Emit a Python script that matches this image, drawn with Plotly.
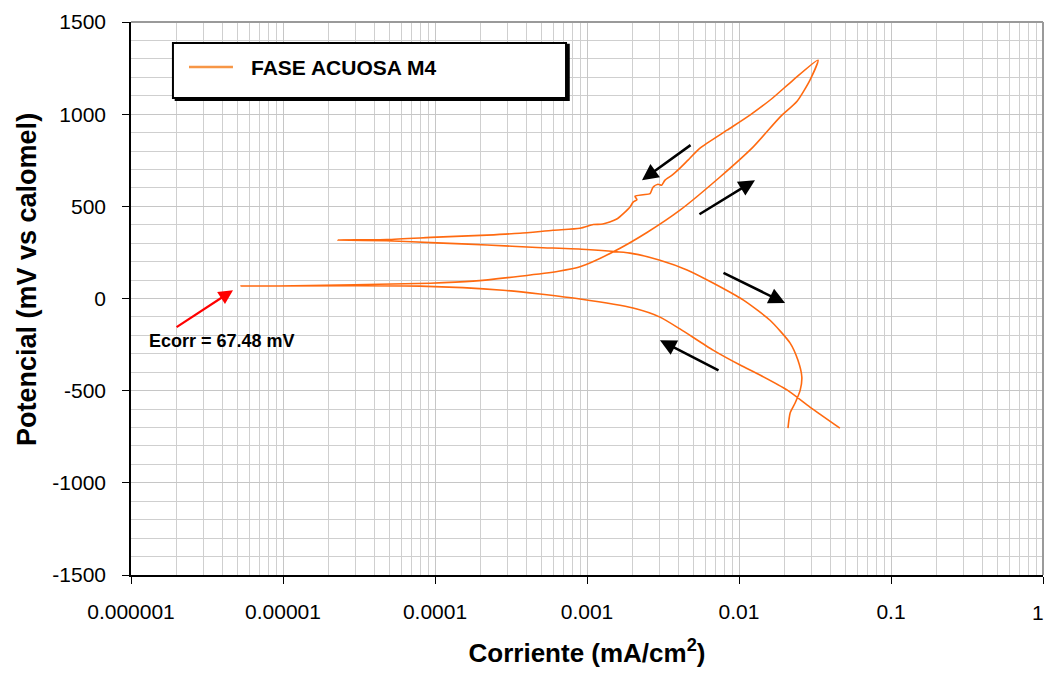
import numpy as np
import plotly.graph_objects as go

# ---- data (current mA/cm2, potential mV) ----
# forward scan, cathodic branch: from -700 mV up to Ecorr
cath_fwd_i = [0.0461, 0.0293, 0.0207, 0.01374, 0.01017, 0.00675, 0.00409, 0.00302,
              0.00201, 0.0009, 0.00049, 0.00028, 0.0000796, 0.0000053]
cath_fwd_e = [-703, -589, -496, -415, -361, -280, -165, -101,
              -52, -3, 24, 45, 67, 67.48]
# forward scan, anodic branch: Ecorr up to vertex
anod_fwd_i = [0.0000053, 0.0000093, 0.000093, 0.000178, 0.000362, 0.00065, 0.0009, 0.00148,
              0.00248, 0.00409, 0.0075, 0.01236, 0.0186, 0.0241, 0.0293, 0.0331]
anod_fwd_e = [67.48, 68, 83, 94, 121, 148, 172, 252,
              358, 479, 659, 821, 984, 1070, 1185, 1293]
# reverse scan, anodic part: vertex down to second zero-current potential
anod_rev_i = [0.0331, 0.0227, 0.0165, 0.0118, 0.00834, 0.00554, 0.00462, 0.00409, 0.00363,
              0.00326, 0.00310, 0.00293, 0.00272, 0.00260, 0.00234, 0.00207, 0.00213, 0.00201,
              0.00192, 0.00157, 0.00127, 0.00110, 0.0009, 0.000597, 0.000362, 0.00022,
              0.000103, 0.0000483, 0.000023]
anod_rev_e = [1293, 1185, 1085, 995, 913, 816, 751, 707, 669,
              642, 615, 620, 604, 569, 563, 555, 536, 523,
              496, 431, 404, 401, 381, 370, 354, 344,
              333, 320, 317]
# reverse scan, cathodic part: down to -700 mV
cath_rev_i = [0.000023, 0.000048, 0.000103, 0.00022, 0.000469, 0.00099, 0.00192, 0.00302,
              0.00455, 0.00675, 0.0107, 0.0160, 0.0217, 0.0244, 0.0259, 0.0253, 0.0234,
              0.0217, 0.0210]
cath_rev_e = [317, 313, 302, 290, 277, 266, 246, 208,
              155, 84, -9, -118, -242, -334, -426, -496, -567,
              -621, -703]

series_name = "FASE ACUOSA M4"
ecorr_label = "Ecorr = 67.48 mV"
x_title = "Corriente (mA/cm<sup>2</sup>)"
y_title = "Potencial (mV vs calomel)"

# scan-direction arrows: tail (i, E) -> head (i, E)
arrow_tail_i = [0.0075, 0.00537, 0.00491, 0.00773]
arrow_tail_e = [-394, 452, 838, 143]
arrow_head_i = [0.00302, 0.01274, 0.0023, 0.0201]
arrow_head_e = [-226, 642, 642, -25]
# Ecorr pointer
ecorr_tail = (1.95e-6, -161)
ecorr_head = (4.69e-6, 45)
ecorr_text_pos = (1.27e-6, -228)

x_tickvals = [1e-6, 1e-5, 1e-4, 1e-3, 1e-2, 1e-1, 1]
x_ticktext = ["0.000001", "0.00001", "0.0001", "0.001", "0.01", "0.1", "1"]
y_tickvals = [-1500, -1000, -500, 0, 500, 1000, 1500]
y_ticktext = ["-1500", "-1000", "-500", "0", "500", "1000", "1500"]

# ---- build ----
cur = cath_fwd_i + anod_fwd_i[1:] + anod_rev_i[1:] + cath_rev_i[1:]
pot = cath_fwd_e + anod_fwd_e[1:] + anod_rev_e[1:] + cath_rev_e[1:]

FONT = "Liberation Sans, Arial, sans-serif"
ORANGE = "#FF6A10"

fig = go.Figure()
fig.add_trace(go.Scatter(x=cur, y=pot, mode="lines", name=series_name,
                         line=dict(color=ORANGE, width=1.6, shape="spline", smoothing=0.6),
                         showlegend=False))

minor_x = [m * 10.0 ** d for d in range(-6, 0) for m in range(2, 10)]

# last tick label (at the right edge) is drawn as an annotation so it stays inside the page
shown_ticktext = x_ticktext[:-1] + [""]

fig.update_xaxes(type="log", range=[-6, 0], tickmode="array", tickvals=x_tickvals,
                 ticktext=shown_ticktext, ticks="outside", ticklen=7, tickcolor="black",
                 showline=True, linecolor="black", linewidth=1.5,
                 showgrid=True, gridcolor="#c6c6c6", gridwidth=1,
                 minor=dict(tickmode="array", tickvals=minor_x, showgrid=True,
                            gridcolor="#cfcfcf", gridwidth=1, ticks=""),
                 tickfont=dict(family=FONT, size=21, color="black"),
                 ticklabelstandoff=10, ticklabeloverflow="allow", automargin=False,
                 zeroline=False,
                 title=dict(text="<b>" + x_title + "</b>",
                            font=dict(family=FONT, size=26, color="black"), standoff=22))
fig.update_yaxes(range=[-1500, 1500], tickmode="array", tickvals=y_tickvals,
                 ticktext=y_ticktext,
                 ticks="outside", ticklen=7, tickcolor="black",
                 showline=True, linecolor="black", linewidth=1.5,
                 showgrid=True, gridcolor="#c6c6c6", gridwidth=1,
                 minor=dict(dtick=100, showgrid=True, gridcolor="#cfcfcf", gridwidth=1, ticks=""),
                 tickfont=dict(family=FONT, size=21, color="black"),
                 ticklabelstandoff=12, ticklabeloverflow="allow", automargin=False,
                 zeroline=False)

shapes = [
    dict(type="line", xref="paper", yref="paper", x0=0, x1=1, y0=1, y1=1,
         line=dict(color="#9a9a9a", width=2)),
    dict(type="line", xref="paper", yref="paper", x0=1, x1=1, y0=0, y1=1,
         line=dict(color="#9a9a9a", width=2)),
    # legend box shadow + box
    dict(type="rect", xref="paper", yref="paper", x0=0.049, x1=0.480, y0=0.859, y1=0.959,
         line=dict(color="black", width=2), fillcolor="black"),
    dict(type="rect", xref="paper", yref="paper", x0=0.046, x1=0.477, y0=0.8626, y1=0.962,
         line=dict(color="black", width=2), fillcolor="white"),
    dict(type="line", xref="paper", yref="paper", x0=0.0636, x1=0.1118, y0=0.9186, y1=0.9186,
         line=dict(color="#F79646", width=2.5)),
]

annotations = [
    dict(xref="paper", yref="paper", x=0.129, y=0.9186, xanchor="left", yanchor="middle",
         text="<b>" + series_name + "</b>", showarrow=False,
         font=dict(family=FONT, size=21, color="black")),
    dict(xref="paper", yref="paper", x=-0.114, y=0.5335, xanchor="center", yanchor="middle",
         text="<b>" + y_title + "</b>", textangle=-90, showarrow=False,
         font=dict(family=FONT, size=27, color="black")),
    dict(xref="x", yref="paper", x=np.log10(x_tickvals[-1]), y=0, xanchor="right",
         yanchor="top", xshift=3, yshift=-24, text=x_ticktext[-1], showarrow=False,
         font=dict(family=FONT, size=21, color="black")),
]
for ti, te, hi, he in zip(arrow_tail_i, arrow_tail_e, arrow_head_i, arrow_head_e):
    annotations.append(dict(x=np.log10(hi), y=he, ax=np.log10(ti), ay=te,
                            xref="x", yref="y", axref="x", ayref="y", text="",
                            showarrow=True, arrowhead=2, arrowsize=1.3, arrowwidth=2.5,
                            arrowcolor="black"))
annotations.append(dict(x=np.log10(ecorr_head[0]), y=ecorr_head[1],
                        ax=np.log10(ecorr_tail[0]), ay=ecorr_tail[1],
                        xref="x", yref="y", axref="x", ayref="y", text="",
                        showarrow=True, arrowhead=2, arrowsize=1.3, arrowwidth=2.2,
                        arrowcolor="#FF0000"))
annotations.append(dict(x=np.log10(ecorr_text_pos[0]), y=ecorr_text_pos[1], xref="x", yref="y",
                        xanchor="left", yanchor="middle", text="<b>" + ecorr_label + "</b>",
                        showarrow=False, font=dict(family=FONT, size=18, color="black")))

fig.update_layout(width=1047, height=675, margin=dict(l=131, r=4, t=22, b=100),
                  paper_bgcolor="white", plot_bgcolor="white",
                  shapes=shapes, annotations=annotations,
                  font=dict(family=FONT, color="black"))

fig.write_html("out.html", config={"displayModeBar": False},
               post_script="document.body.style.margin='0px';document.body.style.overflow='hidden';")
